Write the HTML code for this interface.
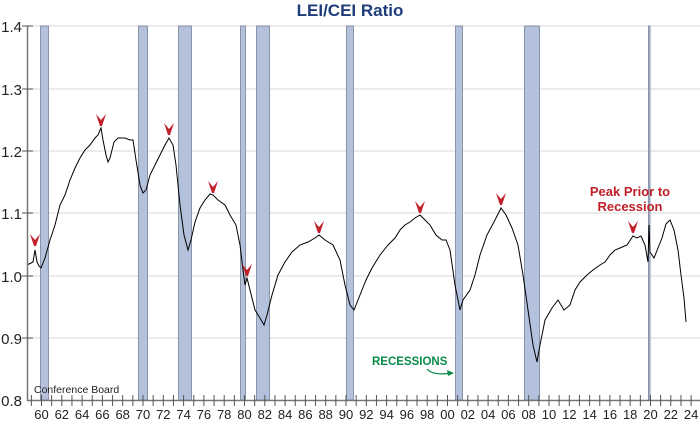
<!DOCTYPE html>
<html><head><style>
body{margin:0;background:#fff;}
svg{display:block;font-family:"Liberation Sans",Arial,sans-serif;}
</style></head><body>
<svg width="700" height="421" viewBox="0 0 700 421">
<text x="350" y="16" text-anchor="middle" font-size="17" font-weight="bold" fill="#1f3d7a">LEI/CEI Ratio</text>
<g stroke="#e6e6e6" stroke-width="1.5">
<line x1="28" y1="26" x2="700" y2="26"/><line x1="28" y1="89" x2="700" y2="89"/>
<line x1="28" y1="151" x2="700" y2="151"/><line x1="28" y1="213" x2="700" y2="213"/>
<line x1="28" y1="276" x2="700" y2="276"/><line x1="28" y1="338" x2="700" y2="338"/>
</g>
<g fill="#b4c1dc" stroke="#8a94a8" stroke-width="1">
<rect x="40.5" y="26" width="8" height="374"/>
<rect x="138.5" y="26" width="9" height="374"/>
<rect x="178.5" y="26" width="13" height="374"/>
<rect x="240.5" y="26" width="5" height="374"/>
<rect x="256.5" y="26" width="13" height="374"/>
<rect x="346.5" y="26" width="7" height="374"/>
<rect x="455.5" y="26" width="7" height="374"/>
<rect x="524.5" y="26" width="15" height="374"/>
<rect x="648.5" y="26" width="1.5" height="374"/>
</g>
<polyline fill="none" stroke="#000" stroke-width="1" points="27,265 31,263 33,262 35,250 37,262 39,266 41,268 45,258 50,240 55,225 60,205 65,195 70,180 75,168 80,158 85,150 90,145 95,138 98,135 101,128 103,140 106,155 108,162 110,158 114,142 118,138 125,138 130,140 133,140 136,160 140,185 143,193 146,190 150,175 155,165 160,155 165,145 169,138 173,145 176,165 180,205 184,235 188,250 191,240 195,222 200,208 205,200 210,194 213,195 218,200 225,205 230,215 236,225 240,245 243,270 245,285 247,278 250,290 255,310 260,318 264,325 267,315 272,295 278,275 285,262 292,252 300,245 308,242 315,238 319,235 325,240 333,245 340,260 345,285 350,305 354,310 360,295 366,280 372,268 380,255 388,245 395,238 400,230 405,225 410,222 415,218 420,215 425,220 430,225 436,235 442,240 446,240 450,250 455,285 460,310 463,300 470,290 475,275 480,255 487,235 495,220 501,208 506,215 512,228 518,245 523,275 528,310 533,345 537,362 540,345 545,320 552,308 558,300 564,310 570,305 575,290 580,282 587,275 593,270 600,265 605,262 610,255 615,250 620,248 627,245 633,236 637,238 641,236 645,245 648,262 649,225 650,252 654,258 658,248 662,238 666,224 670,220 674,230 678,250 681,275 684,298 686,322"/>
<g fill="#c0202a">
<path id="a" d="M-5,-12 L0,-6 L5,-12 L1,0 L-1,0 Z" transform="translate(35,246)"/>
<path d="M-5,-12 L0,-6 L5,-12 L1,0 L-1,0 Z" transform="translate(101,126)"/>
<path d="M-5,-12 L0,-6 L5,-12 L1,0 L-1,0 Z" transform="translate(169,135)"/>
<path d="M-5,-12 L0,-6 L5,-12 L1,0 L-1,0 Z" transform="translate(213,193)"/>
<path d="M-5,-12 L0,-6 L5,-12 L1,0 L-1,0 Z" transform="translate(247,276)"/>
<path d="M-5,-12 L0,-6 L5,-12 L1,0 L-1,0 Z" transform="translate(319,233)"/>
<path d="M-5,-12 L0,-6 L5,-12 L1,0 L-1,0 Z" transform="translate(420,213)"/>
<path d="M-5,-12 L0,-6 L5,-12 L1,0 L-1,0 Z" transform="translate(501,205)"/>
<path d="M-5,-12 L0,-6 L5,-12 L1,0 L-1,0 Z" transform="translate(633,233)"/>
</g>
<text x="630" y="196" text-anchor="middle" font-size="13" font-weight="bold" fill="#c0202a">Peak Prior to</text>
<text x="630" y="211" text-anchor="middle" font-size="13" font-weight="bold" fill="#c0202a">Recession</text>
<text x="372" y="365" font-size="11.5" font-weight="bold" fill="#0a8a4a">RECESSIONS</text>
<path d="M427,369 Q433,376 452,373" fill="none" stroke="#0a8a4a" stroke-width="1.2"/>
<path d="M454,373 L447,370 L448,376 Z" fill="#0a8a4a"/>
<text x="34" y="393" font-size="10.5" fill="#222">Conference Board</text>
<g stroke="#777" stroke-width="1.5"><line x1="27.5" y1="26" x2="27.5" y2="401"/><line x1="27" y1="400.5" x2="700" y2="400.5"/></g>
<g stroke="#555" stroke-width="1">
<line x1="22" y1="26" x2="33" y2="26"/><line x1="22" y1="89" x2="33" y2="89"/><line x1="22" y1="151" x2="33" y2="151"/><line x1="22" y1="213" x2="33" y2="213"/><line x1="22" y1="276" x2="33" y2="276"/><line x1="22" y1="338" x2="33" y2="338"/>
</g>
<g font-size="15" fill="#222" text-anchor="end">
<text x="22" y="32">1.4</text><text x="22" y="95">1.3</text><text x="22" y="157">1.2</text><text x="22" y="219">1.1</text><text x="22" y="282">1.0</text><text x="22" y="344">0.9</text><text x="22" y="406">0.8</text>
</g>
<g id="ticks" stroke="#555" stroke-width="1"></g>
<g id="labels" font-size="13" fill="#222" text-anchor="middle"></g>
<script>
var t=document.getElementById('ticks'),l=document.getElementById('labels'),ns='http://www.w3.org/2000/svg';
for(var y=1958;y<=2024;y++){var x=41.5+(y-1960)*10.15;if(x<30)continue;
var ln=document.createElementNS(ns,'line');ln.setAttribute('x1',x);ln.setAttribute('x2',x);ln.setAttribute('y1',395);ln.setAttribute('y2',406);t.appendChild(ln);
if(y%2==0){var tx=document.createElementNS(ns,'text');tx.setAttribute('x',x);tx.setAttribute('y',419);tx.textContent=String(y%100).padStart(2,'0');l.appendChild(tx);}}
</script>
</svg>
</body></html>
